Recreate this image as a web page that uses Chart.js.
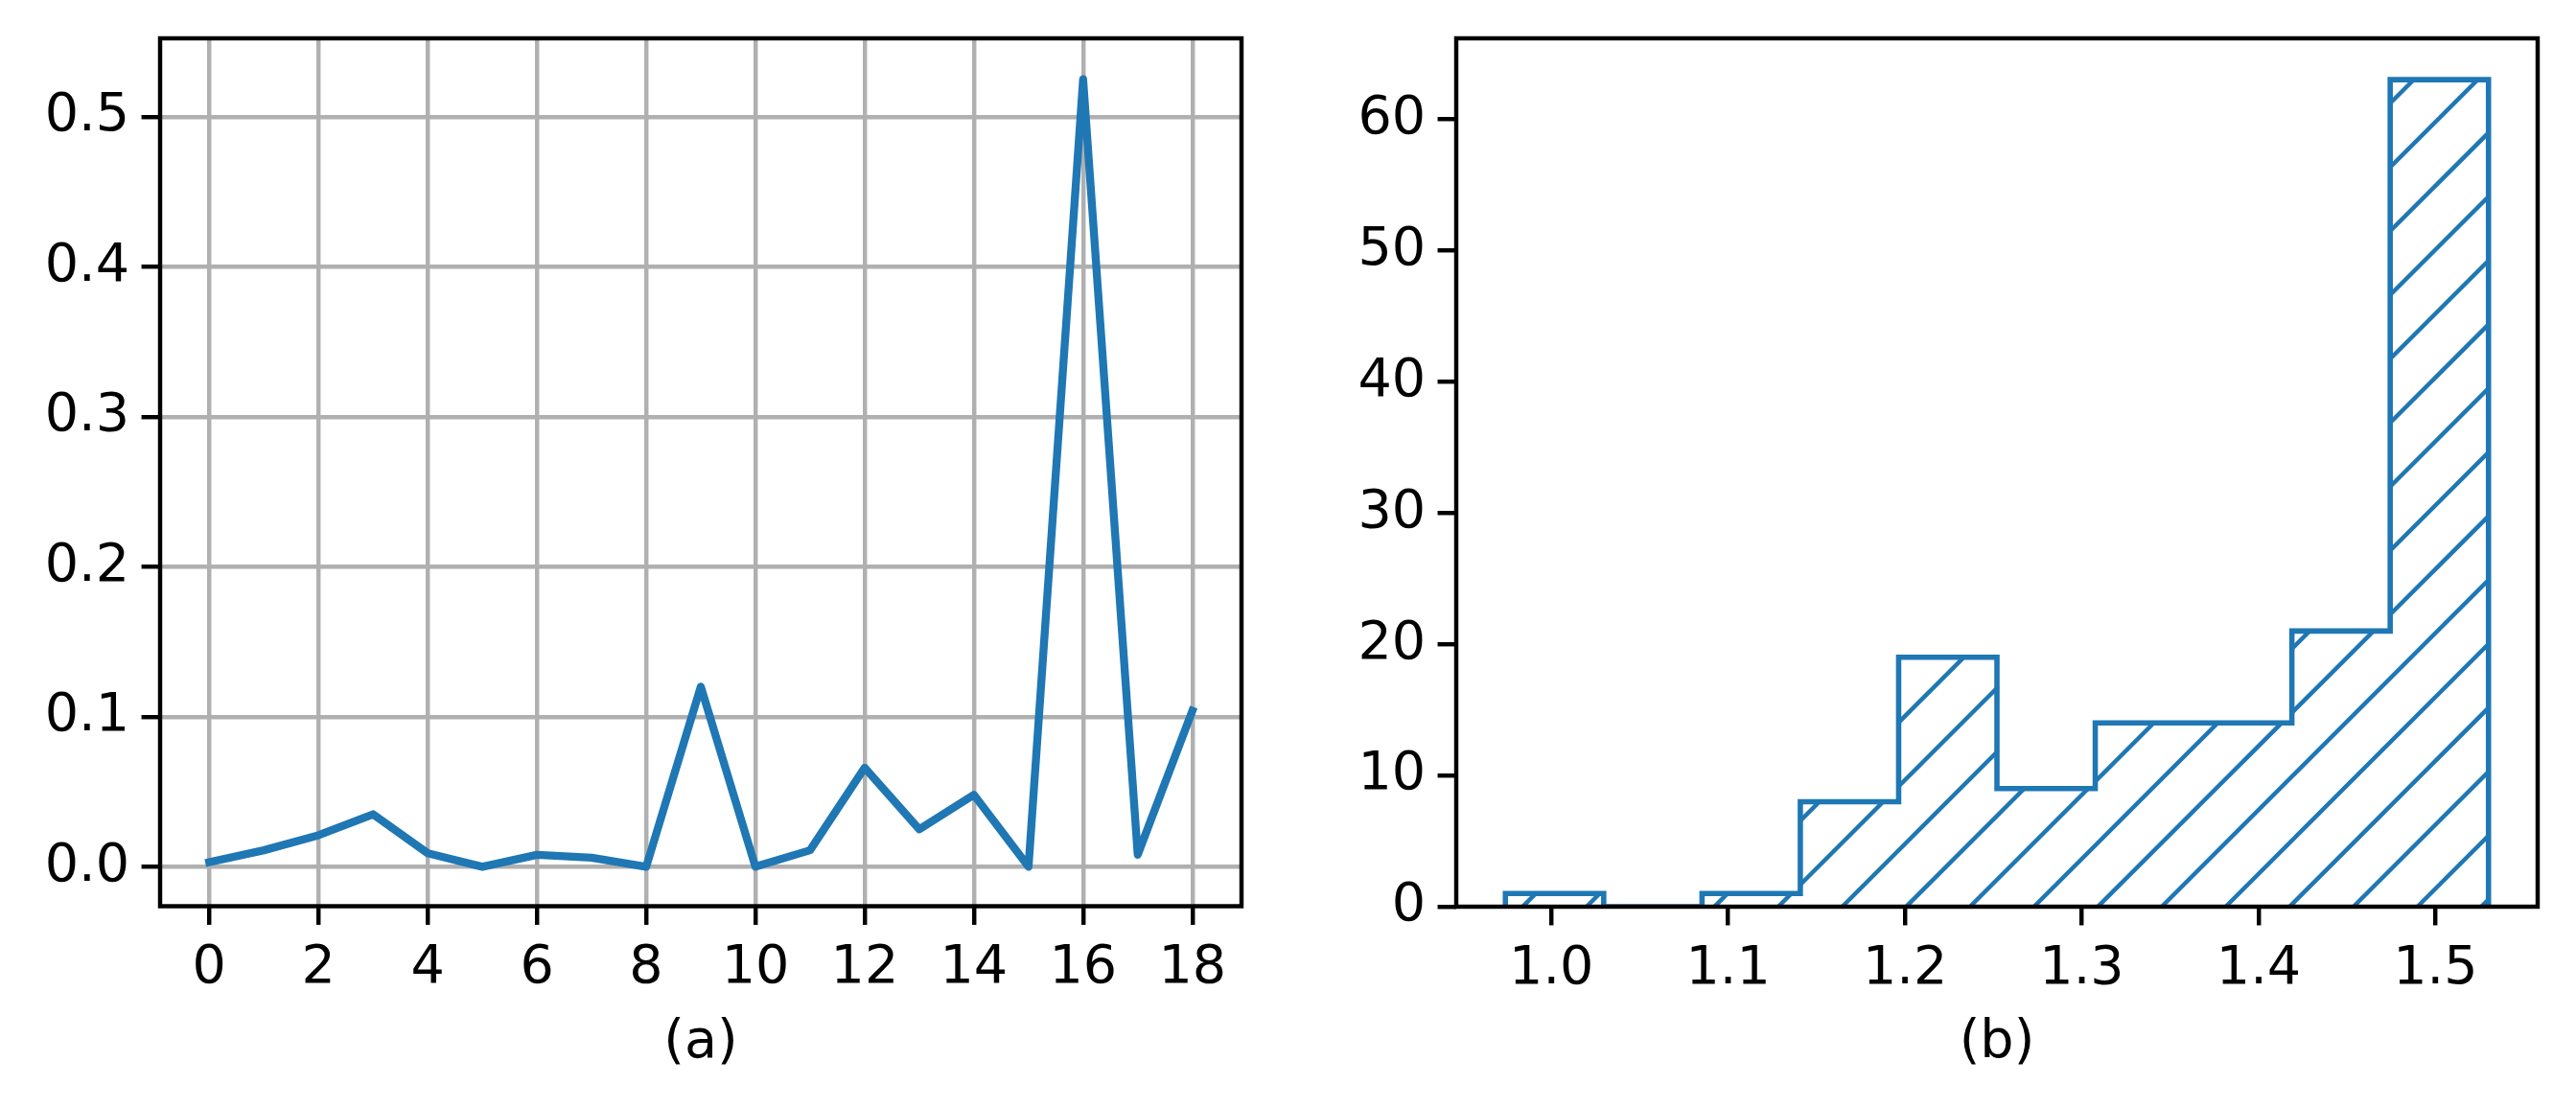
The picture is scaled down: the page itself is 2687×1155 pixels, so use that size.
<!DOCTYPE html>
<html>
<head>
<meta charset="utf-8">
<script src="https://cdn.jsdelivr.net/npm/chart.js@4"></script>
<style>
  html, body { margin: 0; padding: 0; background: #fff; }
  body { width: 2687px; height: 1155px; position: relative; overflow: hidden; }
  canvas { position: absolute; top: 0; }
  #chartA { left: 0; }
  #chartB { left: 1343px; }
</style>
</head>
<body>
<canvas id="chartA" width="1343" height="1155"></canvas>
<canvas id="chartB" width="1344" height="1155"></canvas>
<script>
// ---- (a) line plot ----
const stepIndex = [0, 1, 2, 3, 4, 5, 6, 7, 8, 9, 10, 11, 12, 13, 14, 15, 16, 17, 18];
const stepValues = [0.003, 0.011, 0.021, 0.035, 0.009, 0.000, 0.008, 0.006, 0.000, 0.120,
                    0.000, 0.011, 0.066, 0.025, 0.048, 0.000, 0.525, 0.008, 0.104];
const xTicksA = [0, 2, 4, 6, 8, 10, 12, 14, 16, 18];
const yTicksA = [0.0, 0.1, 0.2, 0.3, 0.4, 0.5];

// ---- (b) histogram ----
const binEdges = [0.974, 1.0296, 1.0852, 1.1408, 1.1964, 1.252, 1.3076, 1.3632, 1.4188, 1.4744, 1.530];
const binCounts = [1, 0, 1, 8, 19, 9, 14, 14, 21, 63];
const xTicksB = [1.0, 1.1, 1.2, 1.3, 1.4, 1.5];
const yTicksB = [0, 10, 20, 30, 40, 50, 60];

const lineColor = "#1f77b4";
const PT = 400 / 72; // figure was saved at 400 dpi

Chart.defaults.font.family = "DejaVu Sans";
Chart.defaults.font.size = 10 * PT;
Chart.defaults.color = "#000";

// box around the axes, like matplotlib spines
const axesFrame = {
  id: "axesFrame",
  afterDatasetsDraw(chart) {
    const { ctx, chartArea: a } = chart;
    ctx.save();
    ctx.strokeStyle = "#000";
    ctx.lineWidth = 0.8 * PT;
    ctx.strokeRect(a.left, a.top, a.right - a.left, a.bottom - a.top);
    ctx.restore();
  },
};

// '/' hatch, 6 lines per inch, anchored to the page
function makeHatch(canvasLeft) {
  const period = 400 / 6;
  const size = 200;
  const phase = (((0.9 - canvasLeft) % period) + period) % period;
  const c = document.createElement("canvas");
  c.width = size;
  c.height = size;
  const g = c.getContext("2d");
  g.strokeStyle = lineColor;
  g.lineWidth = 0.8 * PT;
  for (let k = -2; k <= 8; k++) {
    const s = k * period + phase;
    g.beginPath();
    g.moveTo(s + 20, -20);
    g.lineTo(s - size - 20, size + 20);
    g.stroke();
  }
  return g.createPattern(c, "repeat");
}

// fixed axis size, no extra label padding
function fixSize(prop, val) {
  return (s) => {
    s[prop] = val;
    s.paddingTop = 0;
    s.paddingBottom = 0;
    s.paddingLeft = 0;
    s.paddingRight = 0;
  };
}

function tickOpts(fmt) {
  return {
    padding: 3.5 * PT - 7,
    autoSkip: false,
    maxRotation: 0,
    callback: fmt,
  };
}

function gridOpts(onArea) {
  return {
    display: true,
    drawOnChartArea: onArea,
    color: "#b0b0b0",
    lineWidth: 0.8 * PT,
    tickLength: 3.5 * PT,
    tickWidth: 0.8 * PT,
    tickColor: "#000",
  };
}

// ================================
// (a)
// ================================
new Chart(document.getElementById("chartA"), {
  type: "line",
  data: {
    datasets: [{
      data: stepIndex.map((x, i) => ({ x, y: stepValues[i] })),
      borderColor: lineColor,
      borderWidth: 1.5 * PT,
      borderJoinStyle: "round",
      borderCapStyle: "square",
      pointRadius: 0,
      tension: 0,
      fill: false,
    }],
  },
  options: {
    responsive: false,
    animation: false,
    devicePixelRatio: 1,
    layout: { padding: { left: 0, top: 40, right: 48, bottom: 0 } },
    plugins: { legend: { display: false }, tooltip: { enabled: false } },
    scales: {
      x: {
        type: "linear",
        min: -0.9,
        max: 18.9,
        afterBuildTicks: (s) => { s.ticks = xTicksA.map((v) => ({ value: v })); },
        afterFit: fixSize("height", 209.5),
        ticks: tickOpts((v) => String(v)),
        grid: gridOpts(true),
        border: { display: false },
        title: { display: true, text: "(a)", padding: { top: 0, bottom: 33 } },
      },
      y: {
        type: "linear",
        min: -0.0263,
        max: 0.5523,
        afterBuildTicks: (s) => { s.ticks = yTicksA.map((v) => ({ value: v })); },
        afterFit: fixSize("width", 167),
        ticks: tickOpts((v) => v.toFixed(1)),
        grid: gridOpts(true),
        border: { display: false },
      },
    },
  },
  plugins: [axesFrame],
});

// ================================
// (b) step histogram with hatch
// ================================
const outline = [{ x: binEdges[0], y: 0 }];
binCounts.forEach((c, i) => {
  outline.push({ x: binEdges[i], y: c }, { x: binEdges[i + 1], y: c });
});
outline.push({ x: binEdges[binEdges.length - 1], y: 0 });

new Chart(document.getElementById("chartB"), {
  type: "line",
  data: {
    datasets: [{
      data: outline,
      borderColor: lineColor,
      borderWidth: 1.0 * PT,
      borderJoinStyle: "miter",
      pointRadius: 0,
      tension: 0,
      fill: "origin",
      backgroundColor: makeHatch(1343),
    }],
  },
  options: {
    responsive: false,
    animation: false,
    devicePixelRatio: 1,
    layout: { padding: { left: 0, top: 40, right: 40, bottom: 0 } },
    plugins: { legend: { display: false }, tooltip: { enabled: false } },
    scales: {
      x: {
        type: "linear",
        min: 0.9462,
        max: 1.5578,
        afterBuildTicks: (s) => { s.ticks = xTicksB.map((v) => ({ value: v })); },
        afterFit: fixSize("height", 209),
        ticks: tickOpts((v) => v.toFixed(1)),
        grid: gridOpts(false),
        border: { display: false },
        title: { display: true, text: "(b)", padding: { top: 0, bottom: 33 } },
      },
      y: {
        type: "linear",
        min: 0,
        max: 66.15,
        afterBuildTicks: (s) => { s.ticks = yTicksB.map((v) => ({ value: v })); },
        afterFit: fixSize("width", 176),
        ticks: tickOpts((v) => String(v)),
        grid: gridOpts(false),
        border: { display: false },
      },
    },
  },
  plugins: [axesFrame],
});
</script>
</body>
</html>
